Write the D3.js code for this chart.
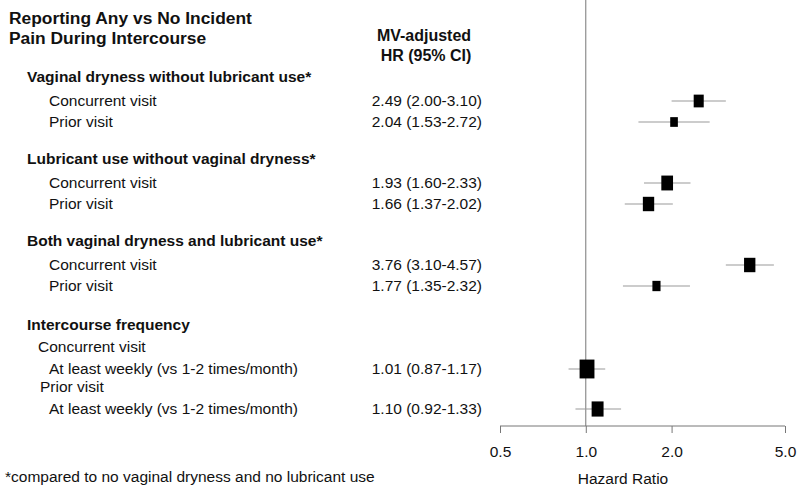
<!DOCTYPE html>
<html>
<head>
<meta charset="utf-8">
<script src="https://cdn.jsdelivr.net/npm/d3@7"></script>
<style>
  body { margin: 0; background: #fff; }
  text { font-family: "Liberation Sans", Arial, sans-serif; fill: #111; }
</style>
</head>
<body>
<div id="chart"></div>
<script>
// rows of the plot, top to bottom
const labels = ["Concurrent visit", "Prior visit",
                "Concurrent visit", "Prior visit",
                "Concurrent visit", "Prior visit",
                "At least weekly (vs 1-2 times/month)", "At least weekly (vs 1-2 times/month)"];
const hr = [2.49, 2.04, 1.93, 1.66, 3.76, 1.77, 1.01, 1.10];
const lo = [2.00, 1.53, 1.60, 1.37, 3.10, 1.35, 0.87, 0.92];
const hi = [3.10, 2.72, 2.33, 2.02, 4.57, 2.32, 1.17, 1.33];
const rowY = [101, 122, 183, 204, 265, 286, 369, 409];

const headings = ["Vaginal dryness without lubricant use*", "Lubricant use without vaginal dryness*",
                  "Both vaginal dryness and lubricant use*", "Intercourse frequency"];
const headingY = [77, 159, 241, 325];
const subHeads = ["Concurrent visit", "Prior visit"];
const subHeadY = [347, 387];
const ticks = [0.5, 1.0, 2.0, 5.0];

async function draw() {
  const width = 800;
  const height = 490;
  const fs = 15.5;

  const svg = d3.select("#chart")
    .append("svg")
    .attr("width", width)
    .attr("height", height);

  const x = d3.scaleLog().domain([0.5, 5]).range([500, 785]);
  const axisY = 426;

  // title
  svg.append("text")
    .attr("x", 9).attr("y", 24)
    .attr("font-size", 17.4).attr("font-weight", "bold")
    .text("Reporting Any vs No Incident");
  svg.append("text")
    .attr("x", 9).attr("y", 44)
    .attr("font-size", 17.4).attr("font-weight", "bold")
    .text("Pain During Intercourse");

  svg.append("text")
    .attr("x", 424).attr("y", 41)
    .attr("text-anchor", "middle")
    .attr("font-size", 16).attr("font-weight", "bold")
    .text("MV-adjusted");
  svg.append("text")
    .attr("x", 426).attr("y", 61)
    .attr("text-anchor", "middle")
    .attr("font-size", 16).attr("font-weight", "bold")
    .text("HR (95% CI)");

  svg.selectAll(".heading")
    .data(headings)
    .join("text")
    .attr("class", "heading")
    .attr("x", 27)
    .attr("y", (d, i) => headingY[i] + 5)
    .attr("font-size", fs).attr("font-weight", "bold")
    .text(d => d);

  svg.selectAll(".subhead")
    .data(subHeads)
    .join("text")
    .attr("class", "subhead")
    .attr("x", (d, i) => i === 0 ? 38 : 40)
    .attr("y", (d, i) => subHeadY[i] + 5)
    .attr("font-size", fs)
    .text(d => d);

  svg.selectAll(".rowlabel")
    .data(labels)
    .join("text")
    .attr("class", "rowlabel")
    .attr("x", 49)
    .attr("y", (d, i) => rowY[i] + 5)
    .attr("font-size", fs)
    .text(d => d);

  svg.selectAll(".hrtext")
    .data(hr)
    .join("text")
    .attr("class", "hrtext")
    .attr("x", 482)
    .attr("y", (d, i) => rowY[i] + 5)
    .attr("text-anchor", "end")
    .attr("font-size", fs)
    .text((d, i) => `${d.toFixed(2)} (${lo[i].toFixed(2)}-${hi[i].toFixed(2)})`);

  // reference line at HR = 1
  svg.append("line")
    .attr("x1", x(1)).attr("x2", x(1))
    .attr("y1", 0).attr("y2", axisY)
    .attr("stroke", "#777").attr("stroke-width", 1);

  // axis
  const axis = d3.axisBottom(x)
    .tickValues(ticks)
    .tickFormat(d3.format(".1f"))
    .tickSize(7)
    .tickPadding(13);
  const gAxis = svg.append("g")
    .attr("transform", `translate(0,${axisY})`)
    .call(axis);
  gAxis.select(".domain").attr("stroke", "#777").attr("d", `M${x(0.5)},0H${x(5)}`);
  gAxis.selectAll(".tick line").attr("stroke", "#777");
  gAxis.selectAll(".tick text")
    .attr("font-size", fs)
    .attr("font-family", "Liberation Sans, Arial, sans-serif")
    .attr("fill", "#111");

  svg.append("text")
    .attr("x", 623).attr("y", 484)
    .attr("text-anchor", "middle")
    .attr("font-size", fs)
    .text("Hazard Ratio");

  // CI whiskers
  svg.selectAll(".ci")
    .data(hr)
    .join("line")
    .attr("class", "ci")
    .attr("x1", (d, i) => x(lo[i]))
    .attr("x2", (d, i) => x(hi[i]))
    .attr("y1", (d, i) => rowY[i])
    .attr("y2", (d, i) => rowY[i])
    .attr("stroke", "#999").attr("stroke-width", 1.2);

  // boxes sized by precision (inverse of log CI width)
  const boxW = (i) => 4.4 / Math.log(hi[i] / lo[i]);
  svg.selectAll(".box")
    .data(hr)
    .join("rect")
    .attr("class", "box")
    .attr("x", (d, i) => x(d) - boxW(i) / 2)
    .attr("y", (d, i) => rowY[i] - boxW(i) * 1.27 / 2)
    .attr("width", (d, i) => boxW(i))
    .attr("height", (d, i) => boxW(i) * 1.27)
    .attr("fill", "#000");

  svg.append("text")
    .attr("x", 5).attr("y", 482)
    .attr("font-size", fs)
    .text("*compared to no vaginal dryness and no lubricant use");
}
draw();
</script>
</body>
</html>
